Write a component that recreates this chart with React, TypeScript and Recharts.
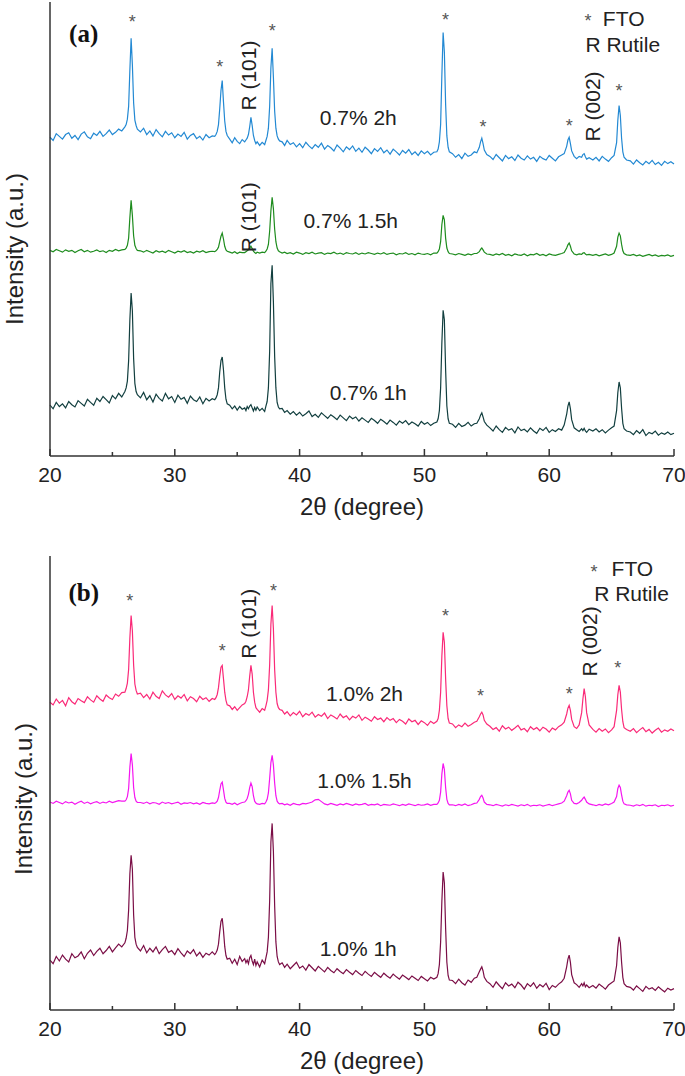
import { LineChart, Line, XAxis, YAxis, ReferenceDot } from "recharts"

// 2θ sampling (degrees), denser around the diffraction peaks
const twoTheta = [
  20, 20.25, 20.5, 20.75, 21, 21.25, 21.5, 21.75, 22, 22.25, 22.5, 22.75, 23, 23.25, 23.5, 23.75, 24, 24.25, 24.5, 24.75, 25, 25.25, 25.5, 25.75,
  26, 26.1, 26.2, 26.3, 26.4, 26.5, 26.6, 26.7, 26.8, 26.9, 27,
  27.25, 27.5, 27.75, 28, 28.25, 28.5, 28.75, 29, 29.25, 29.5, 29.75, 30, 30.25, 30.5, 30.75, 31, 31.25, 31.5, 31.75, 32, 32.25, 32.5, 32.75, 33,
  33.2, 33.3, 33.4, 33.5, 33.6, 33.7, 33.8, 33.9, 34, 34.1, 34.2,
  34.4, 34.6, 34.8, 35, 35.2, 35.4,
  35.6, 35.7, 35.8, 35.9, 36, 36.1, 36.2, 36.3, 36.4, 36.5, 36.6, 36.8, 37, 37.2, 37.3, 37.4, 37.5, 37.6, 37.7, 37.8, 37.9, 38, 38.1, 38.2, 38.3, 38.4,
  38.6, 38.8, 39, 39.25, 39.5, 39.75, 40, 40.25, 40.5, 40.75, 41, 41.25, 41.5, 41.75, 42, 42.25, 42.5, 42.75, 43, 43.25, 43.5, 43.75, 44, 44.25, 44.5,
  44.75, 45, 45.25, 45.5, 45.75, 46, 46.25, 46.5, 46.75, 47, 47.25, 47.5, 47.75, 48, 48.25, 48.5, 48.75, 49, 49.25, 49.5, 49.75, 50, 50.25, 50.5, 50.75,
  51, 51.1, 51.2, 51.3, 51.4, 51.5, 51.6, 51.7, 51.8, 51.9, 52,
  52.25, 52.5, 52.75, 53, 53.25, 53.5, 53.75, 54,
  54.2, 54.4, 54.5, 54.6, 54.7, 54.8, 55,
  55.25, 55.5, 55.75, 56, 56.25, 56.5, 56.75, 57, 57.25, 57.5, 57.75, 58, 58.25, 58.5, 58.75, 59, 59.25, 59.5, 59.75, 60, 60.25, 60.5, 60.75, 61,
  61.2, 61.4, 61.5, 61.6, 61.7, 61.8, 62,
  62.2, 62.4, 62.6, 62.7, 62.8, 62.9, 63, 63.2,
  63.5, 63.75, 64, 64.25, 64.5, 64.75, 65, 65.2,
  65.4, 65.5, 65.6, 65.7, 65.8, 65.9, 66, 66.2,
  66.5, 66.75, 67, 67.25, 67.5, 67.75, 68, 68.25, 68.5, 68.75, 69, 69.25, 69.5, 69.75, 70,
]

// intensities (a.u.)
const ti07_2h = [
  102, 95, 110, 104, 98, 108, 112, 100, 106, 97, 109, 114, 103, 99, 111, 106, 115, 104, 110, 118, 108, 113, 120, 116,
  125, 130, 142, 170, 250, 320, 262, 178, 140, 128, 120,
  114, 122, 108, 116, 105, 119, 110, 103, 115, 107, 112, 101, 109, 104, 113, 98, 106, 110, 99, 104, 96, 108, 101, 105,
  104, 108, 115, 130, 165, 205, 227, 180, 138, 115, 106,
  98, 90, 101, 93, 88, 97,
  92, 96, 100, 108, 125, 146, 128, 106, 95, 88, 92, 84, 91, 86, 95, 104, 122, 170, 255, 298, 235, 160, 122, 105, 98, 94,
  92, 84, 95, 86, 90, 81, 88, 79, 91, 83, 77, 86, 80, 89, 76, 84, 79, 72, 85, 78, 70, 81, 75, 83, 71,
  78, 69, 80, 74, 66, 77, 71, 79, 68, 74, 65, 76, 70, 63, 73, 67, 75, 64, 70, 62, 72, 66, 71, 63, 69,
  70, 76, 92, 130, 240, 333, 290, 175, 105, 80, 70,
  66, 58, 64, 55, 67, 60, 63, 70,
  68, 80, 92, 100, 88, 74, 64,
  60, 53, 64, 57, 50, 62, 55, 59, 51, 63, 56, 52, 61, 54, 58, 49, 60, 55, 52, 62, 56, 50, 59, 63,
  66, 82, 96, 102, 88, 72, 60,
  55, 60, 58, 64, 66, 59, 54, 57,
  52, 58, 50, 60, 54, 49, 57, 62,
  90, 140, 172, 150, 100, 70, 58, 52,
  50, 43, 52, 46, 41, 49, 44, 51, 42, 47, 40, 49, 44, 48, 43,
]
const ti07_15h = [
  53, 50, 55, 52, 49, 54, 51, 53, 48, 52, 55, 50, 53, 49, 51, 54, 50, 52, 48, 53, 51, 55, 52, 54,
  55, 58, 64, 80, 125, 163, 130, 85, 64, 57, 53,
  52, 49, 53, 50, 47, 52, 49, 51, 48, 53, 50, 47, 51, 49, 52, 48, 50, 47, 51, 49, 52, 48, 50, 51,
  50, 52, 55, 60, 72, 84, 91, 78, 62, 54, 51,
  49, 47, 50, 46, 49, 48,
  48, 50, 52, 54, 58, 62, 57, 51, 48, 46, 49, 47, 49, 48, 51, 56, 66, 95, 140, 170, 145, 100, 72, 58, 52, 50,
  47, 49, 46, 48, 45, 49, 47, 44, 48, 46, 49, 45, 47, 48, 44, 47, 46, 49, 45, 47, 44, 48, 46, 45, 48,
  44, 47, 45, 48, 46, 44, 47, 45, 48, 44, 46, 47, 43, 46, 45, 48, 44, 46, 43, 47, 45, 44, 46, 43, 47,
  47, 50, 56, 72, 110, 130, 120, 80, 58, 50, 46,
  45, 43, 46, 44, 42, 45, 43, 46,
  46, 50, 55, 58, 54, 49, 45,
  44, 42, 45, 43, 46, 42, 44, 41, 45, 43, 42, 45, 41, 44, 43, 46, 42, 44, 41, 45, 43, 42, 44, 46,
  48, 58, 65, 69, 62, 52, 45,
  43, 45, 44, 47, 48, 45, 43, 44,
  42, 44, 41, 43, 45, 42, 44, 47,
  62, 82, 91, 85, 66, 52, 46, 43,
  42, 44, 41, 43, 40, 42, 44, 41, 43, 40, 42, 41, 43, 40, 42,
]
const ti07_1h = [
  112, 104, 118, 109, 115, 106, 120, 113, 108, 122, 116, 110, 125, 118, 112, 127, 120, 131, 124, 117, 133, 126, 138, 130,
  142, 150, 165, 210, 300, 359, 320, 215, 160, 142, 135,
  128, 140, 124, 133, 119, 136, 127, 121, 138, 126, 131, 118, 134, 125, 129, 116, 132, 124, 120, 130, 115, 127, 121, 126,
  124, 128, 135, 150, 185, 210, 218, 190, 150, 125, 115,
  112, 104, 110, 101, 109, 103,
  106, 100, 109, 104, 110, 113, 106, 99, 107, 101, 108, 100, 105, 98, 110, 120, 150, 230, 380, 420, 340, 220, 150, 118, 108, 104,
  105, 96, 100, 92, 98, 90, 96, 88, 93, 99, 87, 92, 85, 95, 89, 83, 91, 86, 80, 90, 84, 78, 88, 82, 86,
  77, 84, 79, 74, 83, 78, 72, 81, 76, 70, 79, 74, 68, 77, 72, 78, 69, 75, 71, 66, 76, 70, 74, 67, 72,
  75, 82, 100, 150, 250, 321, 300, 190, 110, 82, 72,
  70, 63, 72, 65, 68, 74, 66, 71,
  72, 82, 90, 95, 86, 76, 68,
  62, 55, 66, 58, 52, 63, 57, 60, 51, 64, 56, 59, 53, 62, 55, 50, 61, 56, 63, 52, 58, 54, 60, 57,
  68, 92, 110, 119, 104, 80, 62,
  58, 54, 60, 56, 61, 55, 52, 59,
  55, 60, 53, 58, 51, 57, 62, 66,
  100, 140, 163, 150, 105, 72, 60, 55,
  53, 47, 56, 50, 58, 45, 52, 49, 55, 46, 51, 48, 53, 47, 50,
]
const ti10_2h = [
  78, 72, 85, 76, 82, 70, 88, 79, 74, 86, 81, 77, 90, 83, 78, 92, 85, 80, 94, 88, 84, 96, 91, 99,
  100, 108, 120, 150, 220, 269, 235, 160, 118, 104, 96,
  98, 88, 95, 85, 100, 91, 86, 103, 94, 89, 97, 84, 92, 87, 95, 81, 90, 86, 79, 91, 84, 88, 80, 86,
  84, 88, 95, 110, 135, 155, 159, 130, 100, 82, 72,
  70, 62, 68, 60, 66, 72,
  75, 80, 90, 105, 135, 159, 140, 100, 78, 66, 62, 56, 64, 60, 70, 82, 105, 160, 250, 291, 240, 150, 100, 75, 66, 62,
  60, 52, 57, 48, 55, 50, 58, 46, 53, 49, 56, 45, 51, 47, 54, 42, 50, 46, 41, 52, 44, 48, 39, 47, 43,
  50, 38, 45, 41, 36, 46, 40, 43, 35, 44, 38, 42, 33, 40, 36, 30, 41, 35, 38, 29, 37, 33, 27, 36, 31,
  36, 42, 60, 100, 180, 232, 210, 130, 70, 42, 32,
  30, 22, 28, 24, 32, 25, 29, 34,
  36, 46, 52, 56, 50, 38, 30,
  25, 18, 22, 14, 26, 19, 23, 16, 21, 27, 17, 20, 13, 24, 18, 22, 15, 23, 19, 12, 21, 17, 24, 28,
  34, 52, 65, 71, 60, 40, 24,
  20, 28, 55, 85, 108, 90, 55, 28,
  18, 12, 20, 14, 19, 11, 17, 24,
  60, 95, 115, 100, 62, 35, 22, 18,
  14, 20, 11, 17, 22, 13, 18, 10, 16, 21, 12, 17, 14, 19, 15,
]
const ti10_15h = [
  58, 55, 60, 57, 54, 59, 56, 58, 53, 57, 60, 55, 58, 54, 57, 59, 55, 58, 56, 60, 57, 59, 61, 60,
  60, 63, 70, 88, 135, 165, 140, 90, 68, 60, 57,
  57, 55, 58, 54, 57, 56, 53, 58, 55, 57, 54, 56, 58, 53, 56, 55, 57, 54, 56, 53, 57, 55, 54, 56,
  55, 57, 60, 68, 84, 98, 102, 85, 66, 58, 55,
  55, 53, 56, 52, 55, 57,
  58, 61, 66, 75, 90, 100, 92, 72, 60, 56, 54, 53, 55, 54, 58, 64, 78, 110, 145, 161, 140, 100, 72, 60, 56, 54,
  55, 52, 54, 51, 55, 53, 52, 55, 54, 56, 58, 63, 64, 59, 54, 52, 55, 53, 51, 54, 52, 55, 53, 51, 54,
  52, 53, 55, 51, 53, 52, 54, 50, 53, 52, 51, 54, 52, 50, 53, 51, 54, 52, 50, 53, 51, 52, 54, 51, 53,
  53, 56, 62, 80, 120, 143, 130, 90, 64, 55, 52,
  52, 50, 53, 51, 54, 50, 52, 55,
  56, 64, 70, 73, 67, 58, 53,
  52, 50, 53, 51, 49, 52, 50, 53, 51, 49, 52, 50, 53, 49, 51, 50, 52, 49, 51, 53, 50, 52, 54, 56,
  60, 72, 80, 84, 76, 62, 55,
  54, 57, 62, 66, 69, 64, 58, 54,
  52, 50, 53, 51, 54, 52, 55, 58,
  70, 88, 95, 90, 74, 60, 54, 52,
  51, 49, 52, 50, 53, 49, 51, 50, 52, 48, 51, 50, 52, 49, 51,
]
const ti10_1h = [
  110, 102, 118, 108, 121, 112, 106, 124, 115, 119, 128, 113, 125, 132, 120, 129, 136, 124, 131, 140, 128, 137, 145, 139,
  148, 158, 175, 220, 300, 341, 310, 210, 160, 145, 138,
  130, 142, 126, 136, 128, 139, 124, 133, 140, 127, 131, 122, 135, 126, 118, 130, 124, 133, 119, 127, 116, 125, 121, 128,
  122, 126, 132, 145, 172, 195, 202, 175, 140, 120, 112,
  114, 103, 112, 100, 118, 107,
  113, 104, 110, 102, 115, 120, 108, 100, 112, 98, 106, 95, 110, 102, 115, 128, 160, 240, 370, 411, 350, 230, 150, 118, 106, 100,
  104, 94, 101, 91, 98, 105, 92, 97, 88, 100, 93, 86, 96, 90, 84, 94, 87, 82, 91, 85, 80, 89, 83, 78, 87,
  81, 76, 85, 79, 74, 83, 77, 72, 81, 75, 70, 79, 73, 68, 77, 72, 67, 75, 70, 65, 74, 69, 64, 72, 68,
  72, 80, 100, 150, 240, 304, 280, 180, 105, 76, 66,
  65, 58, 68, 60, 55, 66, 61, 70,
  72, 84, 90, 95, 86, 72, 63,
  58, 50, 62, 54, 47, 60, 53, 57, 49, 61, 55, 46, 58, 52, 60, 48, 56, 51, 59, 45, 54, 50, 57, 62,
  70, 95, 112, 121, 105, 78, 60,
  56, 50, 58, 53, 60, 51, 55, 49,
  54, 48, 57, 52, 46, 55, 60, 64,
  98, 138, 161, 148, 105, 72, 58, 52,
  50, 44, 53, 47, 41, 52, 46, 49, 43, 51, 45, 40, 48, 44, 47,
]

type Trace = { key: string; values: number[]; offset: number; color: string }

const tracesA: Trace[] = [
  { key: "0.7% 2h", values: ti07_2h, offset: 600, color: "#2389d3" },
  { key: "0.7% 1.5h", values: ti07_15h, offset: 400, color: "#1e8c1e" },
  { key: "0.7% 1h", values: ti07_1h, offset: 0, color: "#123f3f" },
]
const tracesB: Trace[] = [
  { key: "1.0% 2h", values: ti10_2h, offset: 600, color: "#fa2a78" },
  { key: "1.0% 1.5h", values: ti10_15h, offset: 400, color: "#f516f0" },
  { key: "1.0% 1h", values: ti10_1h, offset: 0, color: "#7b0e46" },
]

type Note = { x: number; y: number; text: string; kind: "star" | "label" | "vertical" | "tag" | "key" }

const notesA: Note[] = [
  { x: 22.7, y: 931, text: "(a)", kind: "tag" },
  { x: 26.6, y: 964, text: "*", kind: "star" },
  { x: 33.6, y: 865, text: "*", kind: "star" },
  { x: 37.8, y: 944, text: "*", kind: "star" },
  { x: 51.7, y: 970, text: "*", kind: "star" },
  { x: 54.7, y: 733, text: "*", kind: "star" },
  { x: 61.6, y: 735, text: "*", kind: "star" },
  { x: 65.6, y: 812, text: "*", kind: "star" },
  { x: 35.9, y: 838, text: "R (101)", kind: "vertical" },
  { x: 63.5, y: 770, text: "R (002)", kind: "vertical" },
  { x: 35.9, y: 526, text: "R (101)", kind: "vertical" },
  { x: 44.7, y: 746, text: "0.7% 2h", kind: "label" },
  { x: 44.1, y: 519, text: "0.7% 1.5h", kind: "label" },
  { x: 45.5, y: 139, text: "0.7% 1h", kind: "label" },
  { x: 63.1, y: 966, text: "*", kind: "star" },
  { x: 64.3, y: 964, text: "FTO", kind: "key" },
  { x: 62.9, y: 907, text: "R Rutile", kind: "key" },
]
const notesB: Note[] = [
  { x: 22.7, y: 920, text: "(b)", kind: "tag" },
  { x: 26.4, y: 909, text: "*", kind: "star" },
  { x: 33.8, y: 799, text: "*", kind: "star" },
  { x: 37.9, y: 931, text: "*", kind: "star" },
  { x: 51.7, y: 876, text: "*", kind: "star" },
  { x: 54.5, y: 700, text: "*", kind: "star" },
  { x: 61.6, y: 704, text: "*", kind: "star" },
  { x: 65.5, y: 763, text: "*", kind: "star" },
  { x: 35.9, y: 851, text: "R (101)", kind: "vertical" },
  { x: 63.2, y: 812, text: "R (002)", kind: "vertical" },
  { x: 45.2, y: 697, text: "1.0% 2h", kind: "label" },
  { x: 45.2, y: 506, text: "1.0% 1.5h", kind: "label" },
  { x: 44.7, y: 136, text: "1.0% 1h", kind: "label" },
  { x: 63.6, y: 974, text: "*", kind: "star" },
  { x: 65.0, y: 972, text: "FTO", kind: "key" },
  { x: 63.6, y: 918, text: "R Rutile", kind: "key" },
]

const xTicks = [20, 25, 30, 35, 40, 45, 50, 55, 60, 65, 70]
const INK = "#222"
const FRAME = "#333"
const TICK_MARGIN = 11

function XTick(props: any) {
  const { x, y, payload } = props
  const major = payload.value % 10 === 0
  const axisY = y - TICK_MARGIN
  return (
    <g>
      <line x1={x} x2={x} y1={axisY} y2={axisY - (major ? 7 : 4)} stroke={FRAME} strokeWidth={1.5} />
      {major && (
        <text x={x} y={y} dy="0.72em" textAnchor="middle" fontSize={21} fill={INK}>
          {payload.value}
        </text>
      )}
    </g>
  )
}

function noteShape(n: Note) {
  return (p: any) => {
    const { cx, cy } = p
    if (n.kind === "star")
      return (
        <text x={cx} y={cy} dy={10} textAnchor="middle" fontSize={18} fill="#555">
          *
        </text>
      )
    if (n.kind === "tag")
      return (
        <text x={cx} y={cy} textAnchor="middle" dominantBaseline="central" fontSize={25} fontWeight="bold"
          fontFamily="'Liberation Serif', 'Times New Roman', serif" fill="#111">
          {n.text}
        </text>
      )
    if (n.kind === "vertical")
      return (
        <text x={cx} y={cy} transform={`rotate(-90 ${cx} ${cy})`} textAnchor="middle" dominantBaseline="central"
          fontSize={21} fill={INK}>
          {n.text}
        </text>
      )
    return (
      <text x={cx} y={cy} textAnchor={n.kind === "key" ? "start" : "middle"} dominantBaseline="central"
        fontSize={21} fill={INK}>
        {n.text}
      </text>
    )
  }
}

function Panel({ traces, notes, yTitleX, yTitleY }: { traces: Trace[]; notes: Note[]; yTitleX: number; yTitleY: number }) {
  const rows = twoTheta.map((t, i) => {
    const row: Record<string, number> = { t }
    traces.forEach((tr) => {
      row[tr.key] = tr.values[i] + tr.offset
    })
    return row
  })

  return (
    <LineChart width={685} height={522} data={rows} margin={{ top: 2, right: 11, bottom: 0, left: 0 }}>
      <XAxis
        dataKey="t"
        type="number"
        domain={[20, 70]}
        ticks={xTicks}
        interval={0}
        height={66}
        tickSize={0}
        tickMargin={TICK_MARGIN}
        tickLine={false}
        tick={<XTick />}
        axisLine={{ stroke: FRAME, strokeWidth: 1.5 }}
        label={() => (
          <text x={362} y={506} textAnchor="middle" dominantBaseline="central" fontSize={24} fill={INK}>
            2θ (degree)
          </text>
        )}
      />
      <XAxis xAxisId="top" dataKey="t" type="number" domain={[20, 70]} orientation="top" height={0} tick={false}
        tickLine={false} axisLine={{ stroke: FRAME, strokeWidth: 1.5 }} />
      <YAxis
        type="number"
        domain={[0, 1000]}
        width={50}
        tick={false}
        tickLine={false}
        axisLine={{ stroke: FRAME, strokeWidth: 1.5 }}
        label={() => (
          <text x={yTitleX} y={yTitleY} transform={`rotate(-90 ${yTitleX} ${yTitleY})`} textAnchor="middle"
            dominantBaseline="central" fontSize={24} fill={INK}>
            Intensity (a.u.)
          </text>
        )}
      />
      <YAxis yAxisId="right" orientation="right" type="number" domain={[0, 1000]} width={0} tick={false}
        tickLine={false} axisLine={{ stroke: FRAME, strokeWidth: 1.5 }} />
      {traces.map((tr) => (
        <Line
          key={tr.key}
          type="linear"
          dataKey={tr.key}
          stroke={tr.color}
          strokeWidth={1.2}
          dot={false}
          isAnimationActive={false}
        />
      ))}
      {notes.map((n, i) => (
        <ReferenceDot key={i} x={n.x} y={n.y} r={0} shape={noteShape(n)} />
      ))}
    </LineChart>
  )
}

export default function App() {
  return (
    <div
      style={{
        position: "absolute",
        left: 0,
        top: 0,
        width: 685,
        height: 1076,
        background: "#fff",
        fontFamily: "'Liberation Sans', Arial, sans-serif",
      }}
    >
      <div style={{ position: "absolute", left: 0, top: 0 }}>
        <Panel traces={tracesA} notes={notesA} yTitleX={14} yTitleY={249} />
      </div>
      <div style={{ position: "absolute", left: 0, top: 554 }}>
        <Panel traces={tracesB} notes={notesB} yTitleX={23} yTitleY={245} />
      </div>
    </div>
  )
}
